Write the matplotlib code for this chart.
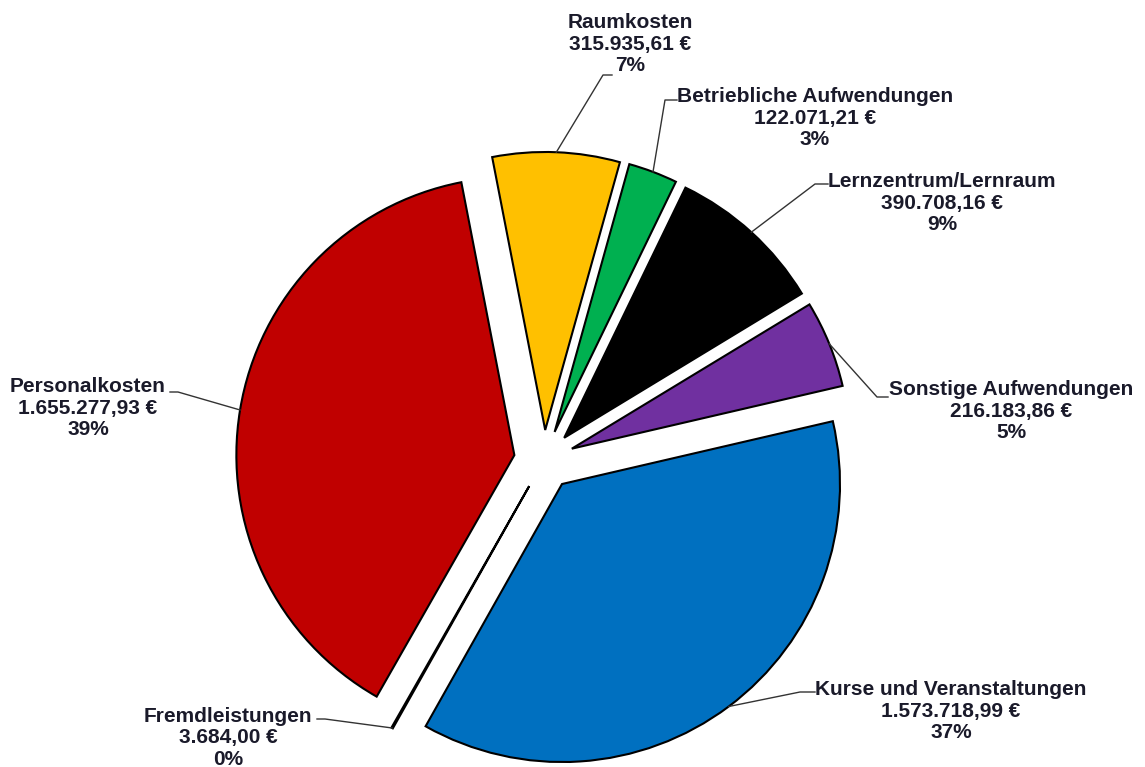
import numpy as np
import matplotlib
matplotlib.use("Agg")
import matplotlib.pyplot as plt

# cost categories, clockwise from the top
categories = ["Raumkosten", "Betriebliche Aufwendungen", "Lernzentrum/Lernraum",
              "Sonstige Aufwendungen", "Kurse und Veranstaltungen", "Fremdleistungen",
              "Personalkosten"]
values = [315935.61, 122071.21, 390708.16, 216183.86, 1573718.99, 3684.00, 1655277.93]
colors = ["#FFC000", "#00B050", "#000000", "#7030A0", "#0070C0", "#FFFFFF", "#C00000"]

# picture geometry (pixels)
W, H = 1145, 767
CX, CY, R = 544, 460, 278
EXPLODE = 0.108


def px(x, y):
    """pixel position -> data coords (pie radius = 1)"""
    return (x - CX) / R, (CY - y) / R


def euro(v):
    s = f"{v:,.2f}"
    return s.replace(",", "X").replace(".", ",").replace("X", ".") + " €"


# label layout: text centre, text-side end of leader, elbow of leader (pixels)
label_pos = {
    "Raumkosten": ((630, 44), (612, 75), (603, 75)),
    "Betriebliche Aufwendungen": ((815, 118), (677, 100), (665, 100)),
    "Lernzentrum/Lernraum": ((942, 203), (828, 184), (815, 184)),
    "Sonstige Aufwendungen": ((1011, 411), (888, 397), (877, 397)),
    "Kurse und Veranstaltungen": ((951, 711), (815, 692), (800, 692)),
    "Fremdleistungen": ((228, 738), (317, 719), (325, 719)),
    "Personalkosten": ((88, 408), (170, 392), (178, 392)),
}

fig = plt.figure(figsize=(W / 100, H / 100), dpi=100)
ax = fig.add_axes([0, 0, 1, 1])

wedges, _ = ax.pie(values, colors=colors, startangle=101, counterclock=False,
                   explode=[EXPLODE] * len(values), radius=1,
                   wedgeprops=dict(edgecolor="black", linewidth=1.5))

total = sum(values)
for w, name, v in zip(wedges, categories, values):
    mid = np.deg2rad((w.theta1 + w.theta2) / 2)
    cx, cy = w.center
    end = (cx + np.cos(mid), cy + np.sin(mid))
    (tx, ty), p1, p2 = label_pos[name]
    a, b = px(*p1), px(*p2)
    ax.plot([a[0], b[0], end[0]], [a[1], b[1], end[1]], color="#333333", lw=1, zorder=1)
    t = px(tx, ty)
    ax.text(t[0], t[1], f"{name}\n{euro(v)}\n{round(v / total * 100):.0f}%",
            ha="center", va="center", fontsize=15, fontweight="bold",
            family="Liberation Sans", color="#1a1a2a", linespacing=1.15)

x0, _ = px(0, 0)
x1, _ = px(W, 0)
_, y0 = px(0, H)
_, y1 = px(0, 0)
ax.set_xlim(x0, x1)
ax.set_ylim(y0, y1)
ax.set_aspect("auto")
ax.axis("off")

fig.savefig("out.png", dpi=100)
